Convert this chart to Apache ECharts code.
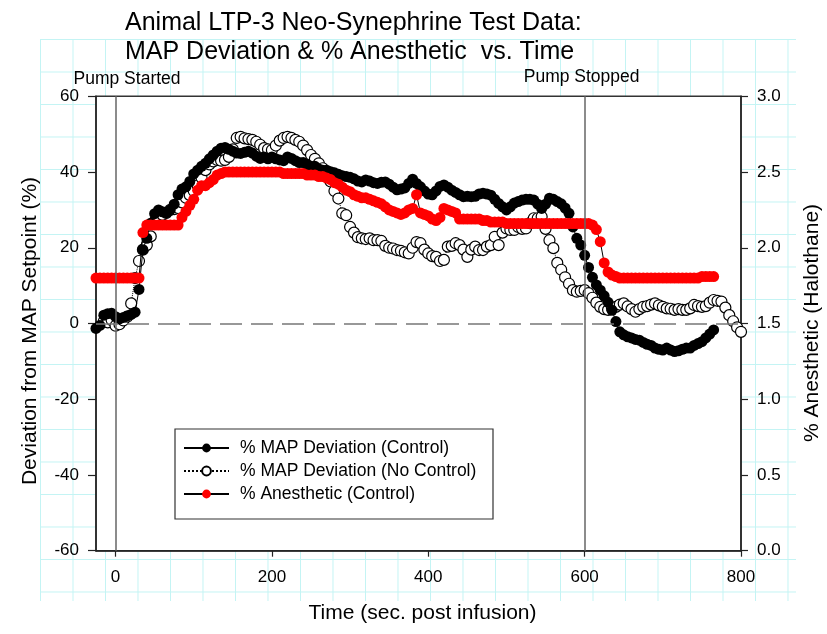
<!DOCTYPE html>
<html>
<head>
<meta charset="utf-8">
<script src="https://cdn.jsdelivr.net/npm/echarts@6/dist/echarts.min.js"></script>
<style>
  html, body { margin: 0; padding: 0; background: #fff; }
  #paper {
    position: absolute; left: 40px; top: 38.5px; width: 756px; height: 562px;
    background-image:
      linear-gradient(to right, #c4f4f4 1px, transparent 1px),
      linear-gradient(to bottom, #c4f4f4 1px, transparent 1px);
    background-size: 32.5px 32.5px;
  }
  #c { position: absolute; left: 0; top: 0; width: 827px; height: 634px; }
</style>
</head>
<body>
<div id="paper"></div>
<div id="c"></div>
<script>
// Time (sec. post infusion)
const time = [
  -25,-20,-15,-10,-5,0,5,10,15,20,
  25,30,35,40,45,50,55,60,65,70,
  75,80,85,90,95,100,105,110,115,120,
  125,130,135,140,145,150,155,160,165,170,
  175,180,185,190,195,200,205,210,215,220,
  225,230,235,240,245,250,255,260,265,270,
  275,280,285,290,295,300,305,310,315,320,
  325,330,335,340,345,350,355,360,365,370,
  375,380,385,390,395,400,405,410,415,420,
  425,430,435,440,445,450,455,460,465,470,
  475,480,485,490,495,500,505,510,515,520,
  525,530,535,540,545,550,555,560,565,570,
  575,580,585,590,595,600,605,610,615,620,
  625,630,635,640,645,650,655,660,665,670,
  675,680,685,690,695,700,705,710,715,720,
  725,730,735,740,745,750,755,760,765,770,
  775,780,785,790,795,800
];
// % MAP Deviation (Control)
const mapControl = [
  -1.3,-0.5,2.2,2.6,2.7,1.8,1.2,1.6,2.0,2.4,
  3.0,9.0,19.5,22.5,26.5,29.0,30.0,29.5,29.2,30.0,
  31.5,34.0,35.5,36.1,37.5,39.5,40.5,41.5,42.3,43.5,
  44.5,45.5,46.3,46.5,46.0,45.5,45.0,44.9,45.2,45.5,
  45.0,44.2,43.6,44.0,43.5,44.0,43.5,43.2,43.0,44.0,
  43.6,43.0,42.5,42.5,42.0,41.5,41.5,40.8,40.5,40.5,
  40.1,39.8,39.4,39.0,38.8,38.6,38.2,37.6,37.4,37.9,
  37.6,37.2,37.0,37.3,37.4,36.8,36.0,35.3,35.5,35.8,
  37.0,38.1,37.0,36.1,35.0,34.2,34.0,35.0,36.2,36.6,
  36.0,35.2,34.6,34.0,33.5,33.6,33.5,33.6,34.2,34.4,
  34.2,33.9,32.8,31.7,30.8,30.0,30.8,31.8,32.2,32.6,
  32.8,32.8,32.6,31.5,30.4,31.5,33.1,32.8,32.2,31.6,
  30.5,29.1,25.5,22.5,20.7,18.0,14.8,12.2,10.2,8.8,
  7.3,5.6,3.5,0.5,-2.2,-3.0,-3.5,-3.8,-4.2,-4.4,
  -5.0,-5.5,-5.8,-6.5,-6.8,-7.0,-6.5,-7.0,-7.4,-7.2,
  -6.8,-6.5,-6.5,-5.8,-5.3,-4.8,-3.8,-2.8,-1.7,null,
  null,null,null,null,null,null
];
// % MAP Deviation (No Control)
const mapNoControl = [
  null,null,0.6,0.3,0.9,-0.6,-0.2,0.8,1.8,5.3,
  12.0,16.5,19.5,20.7,23.0,27.0,28.0,28.7,29.2,30.0,
  30.2,30.5,32.0,33.2,33.9,35.0,36.5,38.5,40.5,42.0,
  42.8,43.2,43.0,43.2,44.0,46.0,49.0,49.3,48.9,48.7,
  48.5,48.0,47.2,46.3,46.0,45.8,47.0,48.3,49.0,49.3,
  49.0,48.5,48.0,47.0,45.8,44.5,43.5,42.3,41.0,39.8,
  37.5,35.0,33.0,29.1,28.6,25.5,24.0,22.8,22.5,22.3,
  22.5,22.0,22.0,21.8,20.5,20.0,19.8,19.4,19.2,18.8,
  18.5,20.0,21.5,21.2,19.5,18.5,17.8,17.6,16.5,16.8,
  20.3,20.5,21.2,20.7,19.5,17.6,19.5,20.3,19.4,19.4,
  20.3,20.7,22.9,20.7,24.0,25.1,24.7,24.7,25.5,25.0,
  25.1,26.5,27.8,27.8,28.2,25.0,22.0,19.9,16.0,14.2,
  12.2,10.5,8.8,8.4,8.6,8.8,8.0,6.8,5.5,4.4,
  3.8,3.6,4.0,4.4,5.0,5.3,4.5,3.8,3.1,3.8,
  4.4,4.6,5.0,5.3,4.8,4.4,4.0,3.9,3.6,3.8,
  3.6,3.6,4.0,4.9,4.6,4.4,4.6,5.5,6.2,6.0,
  5.8,4.2,2.2,0.6,-1.0,-2.2
];
// % Anesthetic (Control), right axis
const anesthetic = [
  1.80,1.80,1.80,1.80,1.80,1.80,1.80,1.80,1.80,1.80,
  1.80,1.80,2.10,2.15,2.15,2.15,2.15,2.15,2.15,2.15,
  2.15,2.15,2.20,2.24,2.28,2.32,2.38,2.41,2.41,2.43,
  2.45,2.48,2.49,2.50,2.50,2.50,2.50,2.50,2.50,2.50,
  2.50,2.50,2.50,2.50,2.50,2.50,2.50,2.50,2.49,2.49,
  2.49,2.49,2.49,2.49,2.48,2.48,2.48,2.47,2.47,2.46,
  2.45,2.43,2.42,2.40,2.38,2.37,2.35,2.34,2.33,2.33,
  2.32,2.31,2.30,2.29,2.27,2.25,2.24,2.23,2.22,2.23,
  2.25,2.26,2.35,2.23,2.22,2.21,2.19,2.18,2.20,2.26,
  2.25,2.24,2.23,2.19,2.19,2.19,2.19,2.19,2.19,2.18,
  2.18,2.17,2.17,2.17,2.17,2.16,2.16,2.16,2.16,2.16,
  2.16,2.16,2.16,2.16,2.16,2.16,2.16,2.16,2.16,2.16,
  2.16,2.16,2.16,2.16,2.16,2.16,2.16,2.15,2.12,2.04,
  1.90,1.84,1.82,1.81,1.80,1.80,1.80,1.80,1.80,1.80,
  1.80,1.80,1.80,1.80,1.80,1.80,1.80,1.80,1.80,1.80,
  1.80,1.80,1.80,1.80,1.80,1.81,1.81,1.81,1.81,null,
  null,null,null,null,null,null
];
const xTicks = [0, 200, 400, 600, 800];
const eventTimes = [0, 600];
const eventLabels = ['Pump Started', 'Pump Stopped'];

const FONT = "'Liberation Sans', Arial, sans-serif";
const pairs = (vals) => time.map((t, i) => [t, vals[i]]);

const chart = echarts.init(document.getElementById('c'), null, { renderer: 'canvas' });

const gridL = 96, gridR = 741, gridT = 96.3, gridB = 550.7;
const xMin = -25, xMax = 800;
const xPix = (t) => gridL + (t - xMin) / (xMax - xMin) * (gridR - gridL);

const option = {
  animation: false,
  backgroundColor: 'transparent',
  textStyle: { fontFamily: FONT },
  grid: {
    left: gridL, right: 827 - gridR, top: gridT, bottom: 634 - gridB,
    show: true, backgroundColor: '#fff', borderColor: '#333', borderWidth: 1.5
  },
  xAxis: {
    type: 'value', min: xMin, max: xMax,
    axisLine: { show: true, onZero: false, lineStyle: { color: '#222', width: 1.5 } },
    axisTick: { show: true, customValues: xTicks, length: 6, lineStyle: { color: '#222', width: 1.2 } },
    axisLabel: { customValues: xTicks, fontSize: 17, color: '#000', fontFamily: FONT, margin: 18 },
    splitLine: { show: false }
  },
  yAxis: [
    {
      type: 'value', min: -60, max: 60, interval: 20, position: 'left',
      axisLine: { show: true, onZero: false, lineStyle: { color: '#222', width: 1.5 } },
      axisTick: { show: true, length: 8, lineStyle: { color: '#222', width: 1.2 } },
      axisLabel: { fontSize: 17, color: '#000', fontFamily: FONT, margin: 17 },
      splitLine: { show: false }
    },
    {
      type: 'value', min: 0, max: 3, interval: 0.5, position: 'right',
      axisLine: { show: true, onZero: false, lineStyle: { color: '#222', width: 1.5 } },
      axisTick: { show: true, length: 7, lineStyle: { color: '#222', width: 1.2 } },
      axisLabel: { fontSize: 17, color: '#000', fontFamily: FONT, margin: 16, formatter: (v) => v.toFixed(1) },
      splitLine: { show: false }
    }
  ],
  legend: {
    orient: 'vertical', left: 183, top: 439, padding: 0,
    itemWidth: 45, itemHeight: 11, itemGap: 5, z: 20,
    textStyle: { fontSize: 17.5, color: '#000', fontFamily: FONT, padding: [0, 0, 0, 6] },
    data: ['% MAP Deviation (Control)', '% MAP Deviation (No Control)', '% Anesthetic (Control)']
  },
  graphic: [
    { type: 'rect', z: 10, shape: { x: 175, y: 429, width: 318, height: 90 },
      style: { fill: '#fff', stroke: '#333', lineWidth: 1.2 } },
    { type: 'text', z: 10, x: 125, y: 23.5,
      style: { text: 'Animal LTP-3 Neo-Synephrine Test Data:', font: "25px " + FONT, fill: '#000', align: 'left', verticalAlign: 'middle' } },
    { type: 'text', z: 10, x: 125, y: 52.5,
      style: { text: 'MAP Deviation & % Anesthetic  vs. Time', font: "25px " + FONT, fill: '#000', align: 'left', verticalAlign: 'middle' } },
    { type: 'text', z: 10, x: xPix(eventTimes[0]) + 11.5, y: 79,
      style: { text: eventLabels[0], font: "17.5px " + FONT, fill: '#000', align: 'center', verticalAlign: 'middle' } },
    { type: 'text', z: 10, x: xPix(eventTimes[1]) - 3, y: 77,
      style: { text: eventLabels[1], font: "17.5px " + FONT, fill: '#000', align: 'center', verticalAlign: 'middle' } },
    { type: 'text', z: 10, x: 422.5, y: 613,
      style: { text: 'Time (sec. post infusion)', font: "21px " + FONT, fill: '#000', align: 'center', verticalAlign: 'middle' } },
    { type: 'text', z: 10, x: 30, y: 331, rotation: Math.PI / 2,
      style: { text: 'Deviation from MAP Setpoint (%)', font: "21px " + FONT, fill: '#000', align: 'center', verticalAlign: 'middle' } },
    { type: 'text', z: 10, x: 812, y: 323, rotation: Math.PI / 2,
      style: { text: '% Anesthetic (Halothane)', font: "21px " + FONT, fill: '#000', align: 'center', verticalAlign: 'middle' } }
  ],
  series: [
    {
      name: 'refs', type: 'line', data: [], z: 1, silent: true,
      markLine: {
        silent: true, symbol: 'none', label: { show: false }, animation: false,
        data: [
          { xAxis: eventTimes[0], lineStyle: { color: '#666', width: 1.5, type: 'solid' } },
          { xAxis: eventTimes[1], lineStyle: { color: '#666', width: 1.5, type: 'solid' } },
          { yAxis: 0, lineStyle: { color: '#777', width: 1.5, type: [22, 9] } }
        ]
      }
    },
    {
      name: '% MAP Deviation (No Control)', type: 'line', z: 2,
      data: pairs(mapNoControl), connectNulls: false,
      symbol: 'circle', symbolSize: 11, showSymbol: true, showAllSymbol: true,
      itemStyle: { color: '#fff', borderColor: '#000', borderWidth: 1.2 },
      lineStyle: { color: '#000', width: 1, type: 'dotted' }
    },
    {
      name: '% MAP Deviation (Control)', type: 'line', z: 3,
      data: pairs(mapControl),
      symbol: 'circle', symbolSize: 11, showSymbol: true, showAllSymbol: true,
      itemStyle: { color: '#000', borderColor: '#000', borderWidth: 0 },
      lineStyle: { color: '#000', width: 1 }
    },
    {
      name: '% Anesthetic (Control)', type: 'line', z: 4, yAxisIndex: 1,
      data: pairs(anesthetic),
      symbol: 'circle', symbolSize: 11, showSymbol: true, showAllSymbol: true,
      itemStyle: { color: '#ff0000', borderWidth: 0 },
      lineStyle: { color: '#000', width: 1 }
    }
  ]
};
chart.setOption(option);
</script>
</body>
</html>
